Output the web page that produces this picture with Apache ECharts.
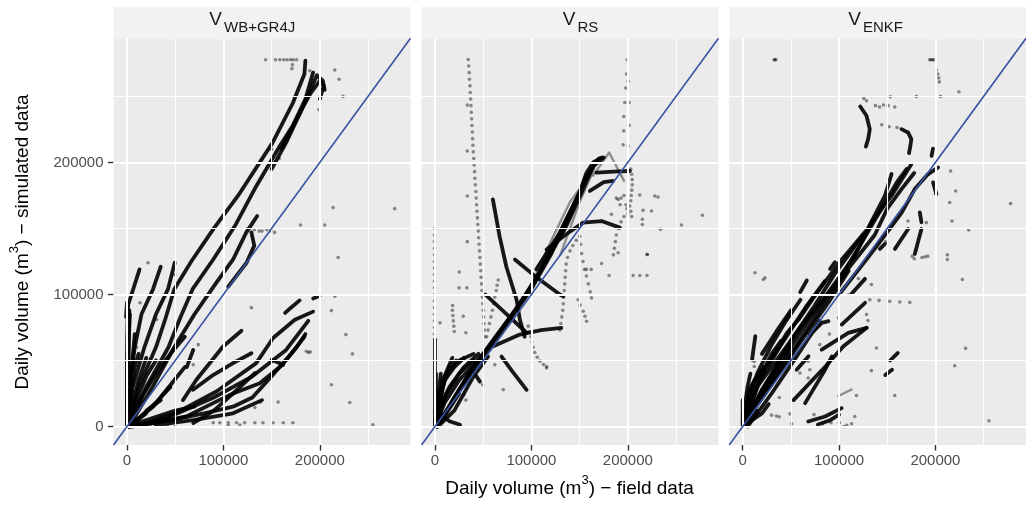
<!DOCTYPE html>
<html><head><meta charset="utf-8">
<script src="https://cdn.jsdelivr.net/npm/echarts@6/dist/echarts.min.js"></script>
<style>html,body{margin:0;padding:0;background:#fff}#c{width:1026px;height:506px}</style>
</head><body><div id="c"></div>
<script>
const panelNames = ['WB+GR4J', 'RS', 'ENKF'];
const majorTicks = [0, 100000, 200000];
const minorTicks = [50000, 150000, 250000];
const axisMin = -14000, axisMax = 294000;
const identityLine = [[-14000, -14000], [294000, 294000]];
const xTitle = ['Daily volume (m', '3', ') \u2212 field data'];
const yTitle = ['Daily volume (m', '3', ') \u2212 simulated data'];

// ---- Panel 1: V_WB+GR4J ----
const wbStreaks = [
  [[0,0],[0,40000],[500,70000],[1000,94000]],
  [[1000,0],[1500,40000],[2000,75000],[2500,88000]],
  [[0,0],[1500,60000],[3000,85000]],
  [[0,0],[4000,25000],[8000,45000],[12000,55000]],
  [[-1000,83000],[0,94000]],
  [[0,2000],[0,50000],[1000,92000],[6000,103000],[13000,119000]],
  [[0,0],[3000,30000],[8000,60000],[15000,85000],[27000,104000],[35000,121000]],
  [[0,0],[6000,30000],[18000,60000],[30000,85000],[42500,104000],[49500,124000]],
  [[1000,0],[12000,30000],[30000,60000],[40000,82000],[49000,104000],[66600,125000],[90000,150000],[115000,174600],[151000,215000],[172000,245000],[184000,267000],[185000,277000]],
  [[2000,0],[20000,30000],[43000,60000],[55000,82000],[68000,104000],[89400,126500],[112000,152000],[134000,182000],[158500,212500],[172000,228000],[185000,248000],[193000,268000]],
  [[150000,195000],[165000,215000],[180000,238000],[192000,258000],[197000,266000],[203000,262000],[205000,255000]],
  [[160000,210000],[175000,232000],[190000,252000],[200000,262000],[204000,258000],[200000,248000]],
  [[2000,0],[25000,28000],[49000,60000],[70000,85000],[92500,108800],[110000,126500],[123600,146800],[135000,159400]],
  [[129000,147000],[132000,137000],[124000,124000],[105000,106000]],
  [[0,0],[2000,20000],[5000,45000],[8000,70000]],
  [[0,0],[10000,20000],[20000,38000],[30000,50000]],
  [[0,0],[15000,22000],[30000,40000],[45000,55000],[60000,68000]],
  [[0,0],[5000,15000],[12000,35000],[20000,52000]],
  [[1000,0],[20000,2000],[50000,10000],[92700,26500],[134000,48000],[151500,67000],[174000,80800],[193000,87000]],
  [[3000,0],[40000,6000],[90000,22000],[130000,38000],[165000,58000],[188000,80000]],
  [[30000,1000],[70000,5000],[110000,10000],[140000,20000]],
  [[58000,20000],[72000,35400],[99600,60600],[118700,72500]],
  [[68500,27800],[89300,39000],[110000,48000],[129000,55500]],
  [[2000,0],[30000,3000],[61600,7600],[89300,17700],[110000,25000],[137700,32800],[160000,46000],[176000,60000],[185000,70000]],
  [[5000,0],[40000,4000],[80000,10000],[110000,15000],[130000,22000],[150000,38000],[170000,55000],[184000,68000]],
  [[164000,86000],[170000,90000],[179000,95500]],
  [[193000,97000],[200000,99000]],
  [[150000,50500],[162000,46700]],
  [[62000,45000],[68700,58000]],
  [[0,0],[15000,8000],[30000,18000],[45000,30000]],
  [[0,0],[25000,6000],[50000,12000],[70000,15000]],
  [[68700,2600],[90000,12000],[110000,25000],[132600,40500]],
  [[2000,0],[15000,8000],[27000,15000],[49000,35000],[60000,45000]],
  [[20000,12000],[35000,20000]],
  [[0,0],[8000,3000],[20000,10000]]
];
const wbFaint = [];
const wbDots = [
  [143700,277800],[154000,277800],[158500,277800],[162600,277800],[166000,277800],[169600,277800],[172300,277800],[175800,277800],[171500,274000],[171000,271000],
  [189600,269400],[215500,270000],[220000,263000],[224000,250000],[199000,240000],[150000,210000],[158000,203000],
  [125000,150000],[132000,149000],[137000,148000],[140000,148000],[145000,149000],[149000,148000],[153000,147000],
  [213700,165800],[277600,165000],[180000,152600],[205000,152600],[219000,128000],
  [21800,124000],[49400,115000],[13500,93700],[30700,81000],[129000,90000],[73900,62000],[68700,46800],
  [215500,98700],[212000,87800],[227000,69600],[233800,55000],[212000,31600],[231000,18200],[255000,1300],
  [186000,57000],[188000,56000],[190000,56500],
  [156700,18500],[138500,18500],[132600,14400],
  [89400,2800],[96300,2800],[105000,2800],[113600,2800],[122000,2800],[132600,2800],[141000,2800],[151500,2800],[162000,2800],[172000,2800],[105000,800],[117000,1200],[49700,0],[42000,500],
  [15000,20000],[25000,45000],[10000,60000],[35000,8000],[45000,30000],[20000,3000]
];

// ---- Panel 2: V_RS ----
const rsStreaks = [
  [[0,0],[0,66000]],
  [[1000,0],[1000,40000]],
  [[0,0],[10000,18000],[25000,35000],[50000,55000],[80000,85000],[105000,112000],[125000,140000],[145000,170000],[158000,190000],[170000,203000]],
  [[0,0],[15000,15000],[35000,40000],[60000,65000],[90000,95000],[115000,125000],[135000,150000],[152000,177000],[164000,197000]],
  [[2000,0],[20000,22000],[45000,48000],[70000,73000],[100000,104000],[120000,130000],[140000,160000],[157000,190000]],
  [[0,5000],[5000,25000],[12000,40000],[25000,50000],[40000,55000]],
  [[3000,0],[20000,12000],[40000,38000],[55000,53000]],
  [[1000,0],[8000,30000],[15000,45000],[22000,50000]],
  [[0,0],[3000,20000],[6000,40000]],
  [[0,2000],[10000,35000],[20000,45000],[30000,52000]],
  [[2000,0],[10000,8000],[25000,25000]],
  [[0,0],[2000,10000],[5000,15000]],
  [[0,0],[5000,15000],[15000,30000],[30000,45000],[45000,55000]],
  [[0,0],[12000,25000],[25000,40000],[40000,50000]],
  [[3000,0],[25000,28000],[40000,45000]],
  [[0,10000],[8000,35000],[18000,52000]],
  [[60000,172000],[67000,144000],[74000,121000],[84600,96000],[88000,81000],[93000,68000]],
  [[52000,100000],[70000,88000],[95000,71000]],
  [[82900,126500],[101800,115000],[129500,100000],[133000,98700]],
  [[60400,60700],[88000,69600],[110000,73000],[131000,74700]],
  [[69000,53000],[80000,42000],[95000,27800]],
  [[43000,38000],[46600,34000]],
  [[5000,10000],[15000,4000],[26000,1300]],
  [[115700,134000],[135000,145000],[153600,154400],[172700,155600],[191700,150600]],
  [[160600,178400],[175000,185000],[184700,186000]],
  [[167500,192300],[185000,193000],[202000,193500]],
  [[164000,197000],[175000,203700]],
  [[105000,119000],[129500,146800],[150000,177000],[157000,192000],[164000,200000],[172700,203700]]
];
const rsFaint = [
  [[164000,190000],[180600,207500],[196000,186000]],
  [[95000,100000],[120000,140000],[140000,170000],[160000,190000]],
  [[130000,130000],[150000,170000],[165000,195000]]
];
const rsDots = [
  [34500,278000],[35000,273000],[35500,268000],[35800,263000],[36300,258000],[36600,253000],[37000,248000],[37300,243000],[37600,238000],[38000,233000],[38300,228000],[38700,223000],[39000,218000],[39300,213000],[39700,208000],[40200,203000],[40600,198000],[41000,193000],[41400,188000],[41800,183000],[42300,178000],[42700,173000],[43100,168000],[43500,163000],[44000,158000],[44400,153000],[44900,148000],[45300,143000],[45700,138000],[46100,133000],[46600,128000],[47000,123000],[47400,118000],[47800,113000],[48300,108000],[48700,103000],[49100,98000],[49500,93000],[50000,88000],[50400,83000],[50800,78000],[51200,73000],[51600,68000],
  [33500,243400],[33500,208700],[33500,174600],[33500,140000],
  [-500,150000],[-500,145000],[-500,140000],[-500,135000],[-500,130000],[-500,125000],[-500,120000],[-500,115000],[-500,110000],[-500,105000],[-500,100000],[-500,95000],[-500,90000],[-500,85000],[-500,80000],[-500,75000],[-500,70000],
  [53600,68000],[55000,73000],[56500,78000],[58000,83000],[59500,88000],[61000,93000],[62000,98000],[63500,103000],[64500,107000],[65600,111000],
  [129500,73000],[130500,78000],[131500,83000],[132500,88000],[133000,93000],[133500,98000],[134000,103000],[134500,108000],[135000,113000],[135500,118000],[136000,123000],[137500,128000],[140000,133000],[143000,137000],[146500,141000],
  [150000,144000],[151000,138000],[152000,131000],[153500,125000],[155000,119000],[157000,114000],[159000,108000],[161000,102000],[162300,97400],
  [148500,96000],[150500,92000],[153700,87300],[155500,83500],[157200,79700],
  [96700,76000],[98000,72000],[99500,68000],[100500,64000],[101800,60000],[103500,56000],[106000,52500],[109000,49500],[112500,47000],[115700,44300],
  [18000,88000],[18500,84000],[19000,80000],[19500,76000],[20000,72000],
  [199200,277800],[198600,267000],[200300,261400],[197900,256300],[196800,245400],[201300,245400],[195800,234800],[201300,228200],[195800,223900],[195100,213300],[200300,212500],
  [203000,195000],[204000,191000],[204500,187000],[204500,183000],[204000,179000],[203500,175000],[203000,171000],[202000,167000],[203000,163000],[204000,159000],
  [196000,175000],[193000,173000],[190000,172000],[188000,173000],[192000,168000],[198000,168000],[199000,165000],[200000,161000],[196000,159000],[193000,155000],[190000,150000],[188000,145000],[187000,140000],[186000,135000],[185000,130000],
  [212400,175300],[215800,163700],[224500,163200],[227900,174600],[231300,173800],[215000,157000],[215000,153000],[233800,149300],[255600,152600],[277300,160000],[220300,130300],[183000,160700],
  [172700,123500],[180600,114400],[189900,131600],[219900,130300],[205500,114400],[212400,114400],[219900,114400],[162000,119000],[157000,119000],
  [5200,78500],[25200,117000],[25000,105000],[33000,105000],[18300,91600],[29300,83500],[32000,71000],[49400,31600],[62000,46800],[70800,27900],[115700,45500],[30000,24000],[32000,20000],[3000,0]
];

// ---- Panel 3: V_ENKF ----
const enkfStreaks = [
  [[0,5000],[11000,33000],[27000,48000],[46000,71000],[58000,81000],[73000,97000],[100000,124000],[130000,150000],[147600,174800],[154500,191200]],
  [[0,0],[15000,30000],[35000,50000],[60000,75000],[89000,101800],[116500,129500],[133800,154700],[154500,174800],[175000,198700]],
  [[0,0],[20000,28000],[45000,55000],[70000,82000],[99000,110000],[120000,135000],[140000,160000],[160000,185000],[170000,195000]],
  [[0,0],[25000,28000],[50000,55000],[80000,88000],[110000,120000],[137000,145000],[150000,165000],[165000,180000],[178000,192000]],
  [[0,0],[18000,35000],[40000,62000],[65000,90000],[85000,110000]],
  [[0,0],[22000,30000],[50000,65000],[75000,92000],[95000,115000],[125000,145000]],
  [[5000,0],[30000,25000],[55000,52000],[80000,80000]],
  [[0,8000],[15000,40000],[30000,62000],[45000,80000],[60000,96000]],
  [[20000,55000],[35000,72000],[50000,88000]],
  [[0,0],[5000,20000],[12000,35000],[22000,45000]],
  [[0,0],[2000,15000],[5000,30000],[8000,40000]],
  [[0,0],[10000,15000],[22000,28000],[35000,42000],[50000,60000]],
  [[0,0],[30000,32000],[60000,64000],[90000,95000],[110000,118000]],
  [[0,0],[3000,10000],[6000,25000],[10000,32000]],
  [[0,0],[8000,5000],[15000,12000]],
  [[0,3000],[15000,20000],[30000,38000],[40000,52000]],
  [[0,0],[10000,25000],[20000,40000],[30000,55000],[40000,65000]],
  [[0,0],[0,20000]],
  [[99000,99000],[137000,134500],[165000,162000],[178600,179800],[192400,191200]],
  [[52800,20000],[86000,45600],[104600,60800],[128600,74700]],
  [[64800,17700],[85500,43000],[92400,53000]],
  [[68000,3800],[85500,7600],[102700,13900]],
  [[78000,1500],[90000,4500],[100000,9000]],
  [[102700,77200],[127000,93700]],
  [[82000,58200],[109600,70900],[128600,74700]],
  [[148000,39000],[155000,43000]],
  [[153000,50000],[161000,55700]],
  [[70000,69600],[82000,78500],[89000,79800]],
  [[56000,43000],[68300,53200]],
  [[9700,50600],[13100,68400]],
  [[59700,101800],[66500,110600]],
  [[90700,119400],[95800,124400]],
  [[113000,100500],[126900,111800]],
  [[142400,134500],[147600,138300]],
  [[158000,134500],[171700,149600]],
  [[178600,130700],[185500,149600]],
  [[183800,162200],[185500,154700]],
  [[197600,184900],[201000,176100]],
  [[192400,191200],[202800,196200]],
  [[122000,242400],[128500,235300],[131900,225200],[130200,217600],[127800,212000]],
  [[164700,225200],[171600,222700],[175000,217600],[174000,212500],[172600,207000]],
  [[197500,210500],[196000,205000]],
  [[0,0],[20000,10000],[27000,17000]]
];
const enkfFaint = [
  [[99000,23000],[113000,28000]]
];
const enkfDots = [
  [32500,277800],[33500,277800],[34500,277800],[194000,277800],[195500,277800],[197000,277800],[198500,277800],
  [201000,270000],[202500,267000],[203500,264000],[204000,261000],
  [224400,253500],[205400,250000],[180200,250000],[153300,249700],[125700,248500],[128500,246700],[137800,243000],[142000,242000],[146000,243500],[151000,243000],[157800,242000],[144300,228500],[152000,227000],[160200,226500],
  [215800,193500],[221000,178400],[214800,169600],[217200,155600],[234500,148800],[278000,168800],[212400,130000],[212400,126500],[176000,129000],[178000,127000],[186000,128000],[189000,128500],[192000,129000],[199000,183000],[200000,176000],[199500,179500],[152600,149300],[171600,155600],[190600,154400],[148200,140000],
  [12700,116400],[21400,111300],[23100,112600],[133600,107500],[131900,96000],[141500,95500],[152600,94800],[163000,94300],[173400,94000],[128500,84800],[130000,80200],[228000,111300],[231300,59200],[220000,46000],[138800,59500],[133600,42300],[157800,23500],[255500,4300],[118000,23500],[116300,7600],[113000,2000],[108000,1000],[105000,0],[91600,2800],[100300,2800],[83000,2000],[74000,9000],[68000,36700],[59400,40500],[49000,9600],[50800,2000],[30000,8600],[35000,8000],[38000,7300],[38000,22000],[12000,49300],[12000,45500],
  [68000,49400],[69700,43000],[99300,82300],[110000,100000],[120000,112000],[90000,70000],[80000,62000]
];

const FONT = '"Liberation Sans", Arial, Helvetica, sans-serif';
const panels = [
  {streaks: wbStreaks, faint: wbFaint, dots: wbDots},
  {streaks: rsStreaks, faint: rsFaint, dots: rsDots},
  {streaks: enkfStreaks, faint: enkfFaint, dots: enkfDots}
];
const lefts = [113.5, 421.5, 729.2];
const pW = 297, pTop = 38.3, pH = 406.7;
const vTextX = [209.3, 562.7, 848.3];

const chart = echarts.init(document.getElementById('c'), null, {renderer: 'canvas'});
const grid = [], xAxis = [], yAxis = [], series = [], graphic = [];
const fmt = v => String(v);
const tickStyle = {show: true, inside: false, customValues: majorTicks, length: 5.5, lineStyle: {color: '#333333', width: 1.4}};
const hiddenLine = {show: false, onZero: false};

panels.forEach((p, i) => {
  grid.push({left: lefts[i], top: pTop, width: pW, height: pH, show: true, backgroundColor: '#EBEBEB', borderWidth: 0, containLabel: false});
  xAxis.push({gridIndex: i, type: 'value', min: axisMin, max: axisMax, position: 'bottom',
    axisLine: hiddenLine, splitLine: {show: false}, axisTick: tickStyle,
    axisLabel: {show: true, customValues: majorTicks, formatter: fmt, color: '#4D4D4D', fontSize: 15, margin: 8, fontFamily: FONT}});
  yAxis.push({gridIndex: i, type: 'value', min: axisMin, max: axisMax, position: 'left',
    axisLine: hiddenLine, splitLine: {show: false},
    axisTick: i === 0 ? tickStyle : {show: false},
    axisLabel: {show: i === 0, customValues: majorTicks, formatter: fmt, color: '#4D4D4D', fontSize: 15, margin: 10, fontFamily: FONT}});
  const gl = [];
  minorTicks.forEach(v => { gl.push({xAxis: v, lineStyle: {width: 1.1}}); gl.push({yAxis: v, lineStyle: {width: 1.1}}); });
  majorTicks.forEach(v => { gl.push({xAxis: v, lineStyle: {width: 2.1}}); gl.push({yAxis: v, lineStyle: {width: 2.1}}); });
  series.push({type: 'scatter', xAxisIndex: i, yAxisIndex: i, data: [], z: 1, silent: true,
    markLine: {silent: true, symbol: ['none', 'none'], label: {show: false}, animation: false,
      lineStyle: {color: '#FFFFFF', type: 'solid'}, emphasis: {disabled: true}, data: gl}});
  p.streaks.forEach(s => series.push({type: 'line', xAxisIndex: i, yAxisIndex: i, data: s, symbol: 'none', showSymbol: false,
    silent: true, z: 3, clip: true, lineStyle: {color: '#000000', opacity: 0.9, width: 3.8, cap: 'round', join: 'round'}}));
  p.faint.forEach(s => series.push({type: 'line', xAxisIndex: i, yAxisIndex: i, data: s, symbol: 'none', showSymbol: false,
    silent: true, z: 3, clip: true, lineStyle: {color: '#000000', opacity: 0.4, width: 2.4, cap: 'round', join: 'round'}}));
  series.push({type: 'scatter', xAxisIndex: i, yAxisIndex: i, data: p.dots, symbolSize: 3.6, silent: true, z: 3,
    itemStyle: {color: 'rgba(0,0,0,0.55)'}});
  series.push({type: 'line', xAxisIndex: i, yAxisIndex: i, data: identityLine, symbol: 'none', showSymbol: false, silent: true, z: 5, clip: true,
    lineStyle: {color: '#3A53A4', width: 1.6}});
  graphic.push({type: 'rect', shape: {x: lefts[i], y: 6.7, width: pW, height: pTop - 6.7}, style: {fill: '#F2F2F2'}, silent: true});
  graphic.push({type: 'text', x: vTextX[i], y: 20, style: {text: 'V', fontSize: 19, fontFamily: FONT, fill: '#1A1A1A', align: 'left', verticalAlign: 'middle'}, silent: true});
  graphic.push({type: 'text', x: vTextX[i] + 14.7, y: 28, style: {text: panelNames[i], fontSize: 15, fontFamily: FONT, fill: '#1A1A1A', align: 'left', verticalAlign: 'middle'}, silent: true});
});

const richT = {
  a: {fontSize: 19, lineHeight: 30, fontFamily: FONT, fill: '#000000', verticalAlign: 'middle'},
  s: {fontSize: 13, lineHeight: 14, fontFamily: FONT, fill: '#000000', verticalAlign: 'top'}
};
graphic.push({type: 'text', x: 569.5, y: 488.8, silent: true,
  style: {text: '{a|' + xTitle[0] + '}{s|' + xTitle[1] + '}{a|' + xTitle[2] + '}', rich: richT, align: 'center', verticalAlign: 'middle'}});
graphic.push({type: 'text', x: 23, y: 242, rotation: Math.PI / 2, silent: true,
  style: {text: '{a|' + yTitle[0] + '}{s|' + yTitle[1] + '}{a|' + yTitle[2] + '}', rich: richT, align: 'center', verticalAlign: 'middle'}});

chart.setOption({animation: false, backgroundColor: '#FFFFFF', grid, xAxis, yAxis, series, graphic});
</script></body></html>
